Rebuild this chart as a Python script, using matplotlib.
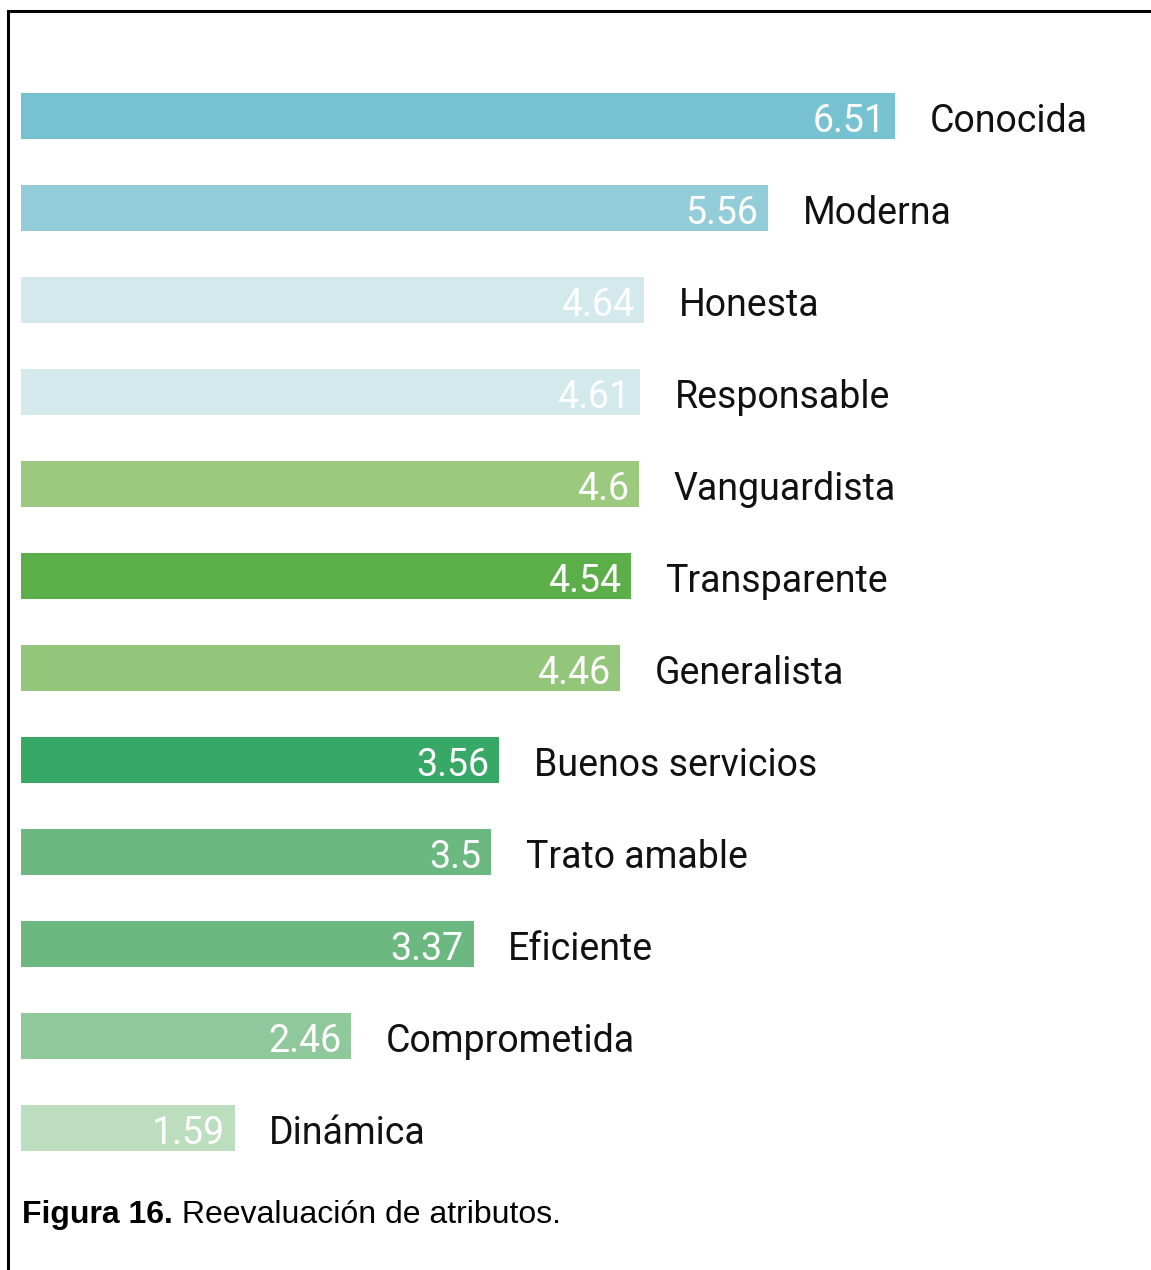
import matplotlib.pyplot as plt
from matplotlib.lines import Line2D

atributos = ['Conocida', 'Moderna', 'Honesta', 'Responsable', 'Vanguardista',
             'Transparente', 'Generalista', 'Buenos servicios', 'Trato amable',
             'Eficiente', 'Comprometida', 'Dinámica']
valores = [6.51, 5.56, 4.64, 4.61, 4.6, 4.54, 4.46, 3.56, 3.5, 3.37, 2.46, 1.59]
colores = ['#76c2d0', '#93cdda', '#d3e9ec', '#d3e9ec', '#9bc97e', '#5caf48',
           '#93c67b', '#38a866', '#6bb880', '#6bb880', '#8fc89a', '#bcdebf']

W, H = 1151, 1270
fig = plt.figure(figsize=(W / 100, H / 100), dpi=100)

# eje en unidades de valor; ~134 px por unidad
ax = fig.add_axes([21 / W, (H - 1174) / H, (W - 21) / W, 1104 / H])
ax.set_xlim(0, (W - 21) / 134.3)
ax.set_ylim(len(valores) - 0.5, -0.5)
ax.axis('off')

pos = range(len(valores))
ax.barh(pos, valores, height=0.5, color=colores, edgecolor='none')

for i, (v, nombre) in enumerate(zip(valores, atributos)):
    ax.annotate(f'{v:g}', (v, i), xytext=(-7, -1), textcoords='offset points',
                ha='right', va='center_baseline', color='white', fontsize=27,
                family='Roboto')
    ax.annotate(nombre, (v, i), xytext=(25, -1), textcoords='offset points',
                ha='left', va='center_baseline', color='#111111', fontsize=27,
                family='Roboto')

# pie de figura: parte en negrita y resto a continuación
t1 = fig.text(22 / W, 1 - 1215 / H, 'Figura 16.', fontsize=23, fontweight='bold',
              family='Liberation Sans', va='center', ha='left')
fig.add_artist(plt.Annotation(' Reevaluación de atributos.', xy=(1, 0.5), xycoords=t1,
                              fontsize=23, family='Liberation Sans',
                              va='center', ha='left', annotation_clip=False))

# marco superior e izquierdo
fig.add_artist(Line2D([8 / W, 1], [1 - 11 / H, 1 - 11 / H], color='black', lw=2.2))
fig.add_artist(Line2D([8 / W, 8 / W], [0, 1 - 11 / H], color='black', lw=2.2))

fig.savefig('out.png', dpi=100, facecolor='white')
